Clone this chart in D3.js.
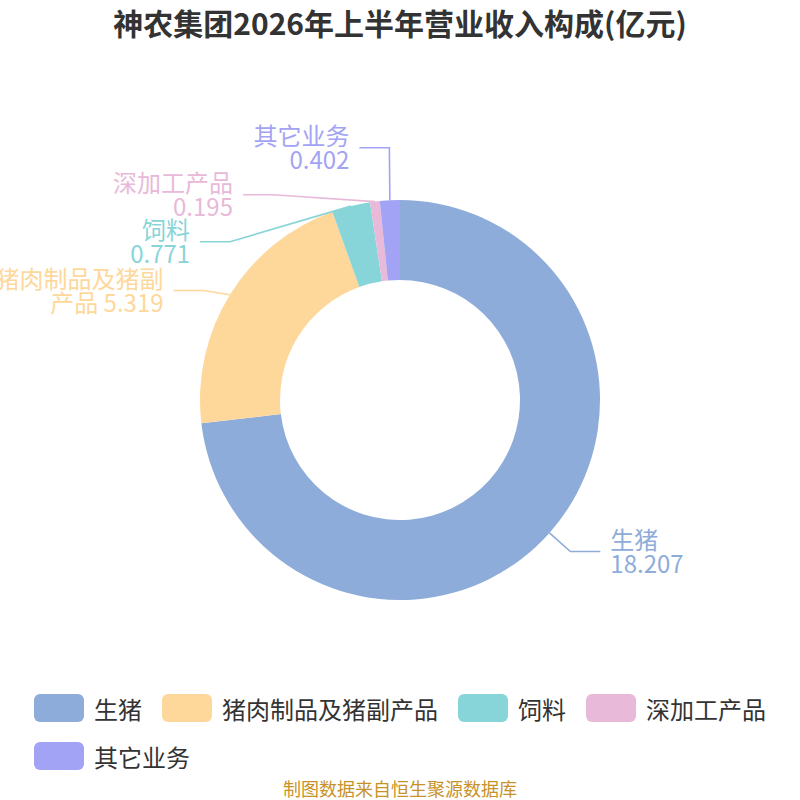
<!DOCTYPE html>
<html>
<head>
<meta charset="utf-8">
<script src="https://cdn.jsdelivr.net/npm/d3@7"></script>
<style>
  html, body { margin: 0; padding: 0; background: #fff; }
  svg { display: block; font-family: "Noto Sans CJK SC", "Noto Sans", sans-serif; }
</style>
</head>
<body>
<svg id="chart" width="800" height="800"></svg>
<script>
// data
var categories = ["生猪", "猪肉制品及猪副产品", "饲料", "深加工产品", "其它业务"];
var values = [18.207, 5.319, 0.771, 0.195, 0.402];
var labelLines = [["生猪"], ["猪肉制品及猪副", "产品 5.319"], ["饲料"], ["深加工产品"], ["其它业务"]];
var colors = ["#8eacda", "#fed89b", "#88d5d9", "#e8b9d8", "#a3a3f5"];

var W = 800, H = 800, cx = 400, cy = 400, rOuter = 200, rInner = 120;
var fontSize = 24, lineH = 24;

var svg = d3.select("#chart");

svg.append("text")
  .attr("x", W / 2).attr("y", 22)
  .attr("text-anchor", "middle").attr("dominant-baseline", "central")
  .attr("font-size", 30).attr("font-weight", "bold").attr("fill", "#333")
  .text("神农集团2026年上半年营业收入构成(亿元)");

var color = d3.scaleOrdinal().domain(categories).range(colors);

var rows = categories.map(function(c, i) { return { name: c, value: values[i], idx: i }; });

var pie = d3.pie().value(function(d) { return d.value; }).sort(null);
var arcs = pie(rows);
var arc = d3.arc().innerRadius(rInner).outerRadius(rOuter);

var g = svg.append("g").attr("transform", "translate(" + cx + "," + cy + ")");

g.selectAll("path.slice")
  .data(arcs)
  .enter().append("path")
  .attr("class", "slice")
  .attr("d", arc)
  .attr("fill", function(d) { return color(d.data.name); });

// label layout (roughly like echarts: push apart on each side, align on an ellipse)
var labels = arcs.map(function(d) {
  var a = (d.startAngle + d.endAngle) / 2;
  var right = Math.sin(a) >= 0;
  return {
    d: d, a: a, right: right,
    x1: rOuter * Math.sin(a), y1: -rOuter * Math.cos(a),
    y: right ? -(rOuter + 28) * Math.cos(a) : -(rOuter + 8) * Math.cos(a)
  };
});

function relax(list, gap) {
  list.sort(function(a, b) { return a.y - b.y; });
  for (var it = 0; it < 200; it++) {
    var moved = false;
    for (var i = 1; i < list.length; i++) {
      var o = gap - (list[i].y - list[i - 1].y);
      if (o > 0.01) { list[i].y += o / 2; list[i - 1].y -= o / 2; moved = true; }
    }
    if (!moved) break;
  }
}

var leftL = labels.filter(function(l) { return !l.right; });
var rightL = labels.filter(function(l) { return l.right; });
relax(leftL, 47);
relax(rightL, 47);

var rA = 218;
var rB = d3.max(leftL, function(l) { return Math.abs(l.y); }) + 0.3;
leftL.forEach(function(l) {
  var dy = Math.abs(l.y);
  var dx = rA * Math.sqrt(Math.max(0, 1 - dy * dy / (rB * rB)));
  l.x2 = -Math.max(dx, Math.abs(l.x1));
  l.y2 = l.y;
});
rightL.forEach(function(l) {
  l.x2 = (rOuter + 28) * Math.sin(l.a);
  l.y2 = l.y;
});

var len2 = 30, textGap = 10;
labels.forEach(function(l) {
  var dir = l.right ? 1 : -1;
  var x3 = l.x2 + dir * len2;
  var c = color(l.d.data.name);
  g.append("polyline")
    .attr("points", [[l.x1, l.y1], [l.x2, l.y2], [x3, l.y2]].map(function(p) { return p.join(","); }).join(" "))
    .attr("fill", "none").attr("stroke", c).attr("stroke-width", 1.6);

  var lines = labelLines[l.d.data.idx].slice();
  if (lines.length === 1) lines.push(String(l.d.data.value));
  var t = g.append("text")
    .attr("x", x3 + dir * textGap)
    .attr("text-anchor", l.right ? "start" : "end")
    .attr("font-size", fontSize).attr("fill", c);
  lines.forEach(function(s, k) {
    t.append("tspan")
      .attr("x", x3 + dir * textGap)
      .attr("y", l.y2 + (k - (lines.length - 1) / 2) * lineH - 1)
      .attr("dominant-baseline", "central")
      .text(s);
  });
});

// legend
var legendY0 = 708, rowGap = 48, itemGap = 20, boxW = 50, boxH = 28, legendLeft = 34, legendRight = 766;
var lg = svg.append("g");
var lx = legendLeft, ly = legendY0;
categories.forEach(function(c) {
  var tmp = lg.append("text").attr("font-size", 24).text(c);
  var tw = tmp.node().getComputedTextLength();
  tmp.remove();
  var w = boxW + 10 + tw;
  if (lx + w > legendRight + 2) { lx = legendLeft; ly += rowGap; }
  lg.append("rect")
    .attr("x", lx).attr("y", ly - boxH / 2)
    .attr("width", boxW).attr("height", boxH)
    .attr("rx", 6).attr("ry", 6)
    .attr("fill", color(c));
  lg.append("text")
    .attr("x", lx + boxW + 10).attr("y", ly)
    .attr("dominant-baseline", "central")
    .attr("font-size", 24).attr("fill", "#333")
    .text(c);
  lx += w + itemGap;
});

svg.append("text")
  .attr("x", W / 2).attr("y", 788)
  .attr("text-anchor", "middle").attr("dominant-baseline", "central")
  .attr("font-size", 18).attr("fill", "#c8922a")
  .text("制图数据来自恒生聚源数据库");
</script>
</body>
</html>
